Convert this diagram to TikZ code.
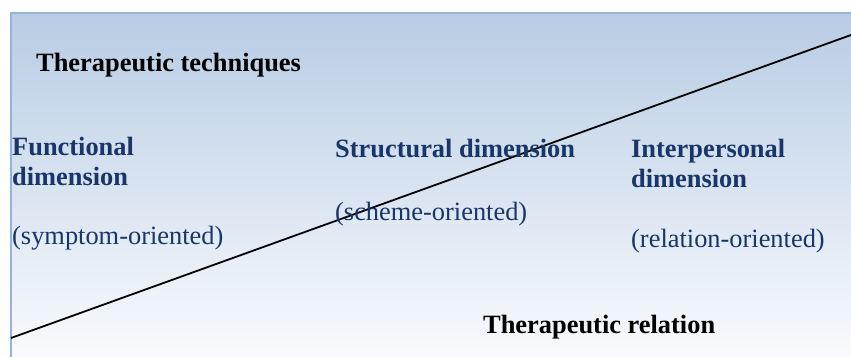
\documentclass[tikz,border=0pt]{standalone}
\usepackage{fontspec}
\setmainfont{Liberation Serif}
\definecolor{navy}{HTML}{1A3668}
\definecolor{bgtop}{HTML}{B8CCE4}
\definecolor{bgbot}{HTML}{F9FBFD}
\definecolor{frame}{HTML}{95B3D7}
\tikzset{
  lbl/.style={anchor=base west, inner sep=0pt, font=\fontsize{26.4}{30}\selectfont, align=left},
  head/.style={lbl, font=\fontsize{26.4}{30}\selectfont\bfseries},
  dimhead/.style={head, text=navy},
  dimsub/.style={lbl, text=navy},
  divider/.style={draw=black, line width=1.8pt}
}
\begin{document}
\begin{tikzpicture}[x=1pt,y=-1pt]
\useasboundingbox (0,0) rectangle (851,356);
\shade[top color=bgtop, bottom color=bgbot] (11,13) rectangle (870,360);
\draw[frame, line width=2.2pt] (11,380) -- (11,13) -- (870,13);
\coordinate (lineA) at (11,338);
\coordinate (lineB) at (851,35);
\draw[divider] (lineA) -- (lineB);
\node[head] (tech) at (36,71) {Therapeutic techniques};
\node[dimhead] (func) at (12,185) {Functional\\dimension};
\node[dimsub] (funcsub) at (12,244) {(symptom-oriented)};
\node[dimhead] (struct) at (335,157) {Structural dimension};
\node[dimsub] (structsub) at (335,220) {(scheme-oriented)};
\node[dimhead] (inter) at (631,187) {Interpersonal\\dimension};
\node[dimsub] (intersub) at (631,247) {(relation-oriented)};
\node[head] (rel) at (483,333) {Therapeutic relation};
\end{tikzpicture}
\end{document}
